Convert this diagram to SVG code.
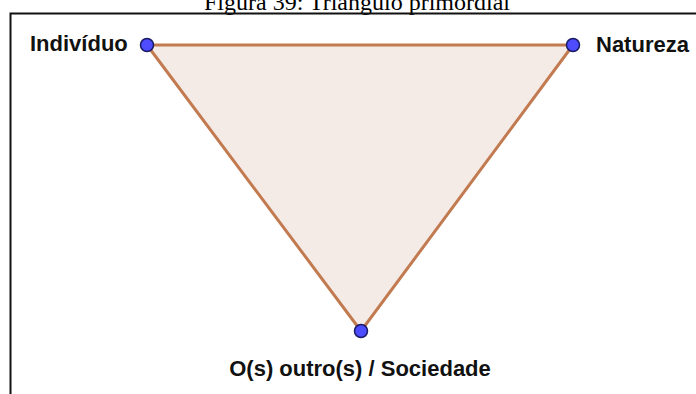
<svg xmlns="http://www.w3.org/2000/svg" width="696" height="394" viewBox="0 0 696 394">
  <style>
    .caption { font-family: "Liberation Serif", "Times New Roman", serif; font-size: 24px; fill: #000; }
    .label { font-family: "Liberation Sans", Arial, Helvetica, sans-serif; font-weight: bold; font-size: 22px; fill: #111; }
    .tri { fill: #f5ebe6; stroke: #c27a50; stroke-width: 3; stroke-linejoin: round; }
    .pt { fill: #4d4dff; stroke: #1a1a66; stroke-width: 1.5; }
  </style>
  <rect width="696" height="394" fill="#ffffff"/>
  <text class="caption" x="357" y="10" text-anchor="middle">Figura 39: Triângulo primordial</text>
  <path d="M10.5 400 V13.5 H700" fill="none" stroke="#111" stroke-width="2"/>
  <g id="connectors">
    <polygon class="tri" points="147,45 573,45 361,331"/>
  </g>
  <g id="individuo">
    <circle class="pt" cx="147" cy="45" r="6.5"/>
    <text class="label" x="30" y="51">Indivíduo</text>
  </g>
  <g id="natureza">
    <circle class="pt" cx="573" cy="45" r="6.5"/>
    <text class="label" x="596" y="52">Natureza</text>
  </g>
  <g id="sociedade">
    <circle class="pt" cx="361" cy="331" r="6.5"/>
    <text class="label" x="360" y="376" text-anchor="middle">O(s) outro(s) / Sociedade</text>
  </g>
</svg>
